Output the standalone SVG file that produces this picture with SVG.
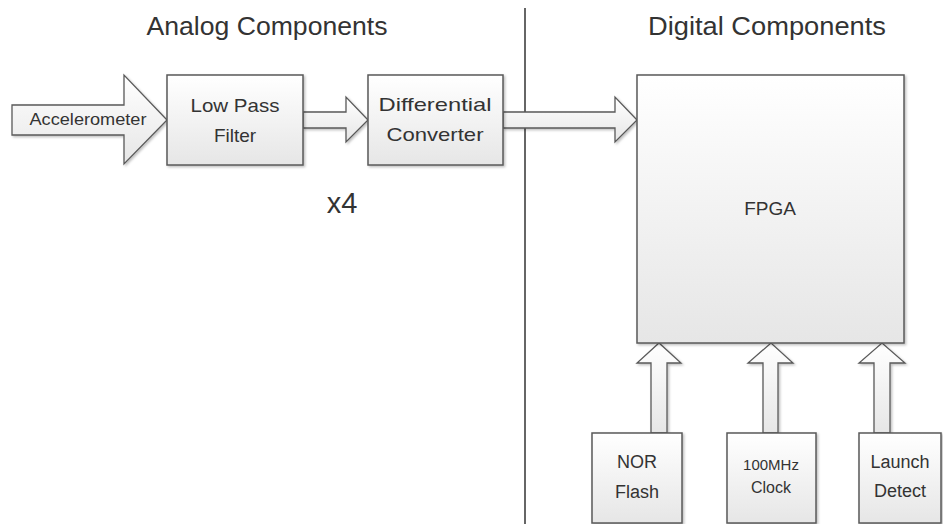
<svg xmlns="http://www.w3.org/2000/svg" width="943" height="524" viewBox="0 0 943 524">
<style>
.box{fill:url(#g);stroke:#5a5a5a;stroke-width:1.5}
.arr{fill:url(#g);stroke:#5a5a5a;stroke-width:1.3;stroke-linejoin:miter}
.t{font-family:"Liberation Sans",Arial,sans-serif;fill:#333;text-anchor:middle}
.h{font-size:25px}
.b{font-size:19px}
</style>
<defs>
<linearGradient id="g" x1="0" y1="0" x2="0" y2="1">
<stop offset="0" stop-color="#ffffff"/>
<stop offset="1" stop-color="#e6e6e6"/>
</linearGradient>
<filter id="sh" x="-10%" y="-10%" width="130%" height="130%">
<feDropShadow dx="1.5" dy="1.5" stdDeviation="1" flood-color="#000" flood-opacity="0.25"/>
</filter>
</defs>
<rect width="943" height="524" fill="#fff"/>
<text class="t h" x="267" y="35" textLength="241" lengthAdjust="spacingAndGlyphs">Analog Components</text>
<text class="t h" x="767" y="35" textLength="238" lengthAdjust="spacingAndGlyphs">Digital Components</text>
<line x1="525" y1="8" x2="525" y2="524" stroke="#333" stroke-width="1.5"/>
<g id="connectors" filter="url(#sh)">
<path class="arr" d="M12,105 H124 V75 L167,120 L124,164 V135 H12 Z"/>
<path class="arr" d="M303,112 H346 V97 L368,120 L346,142 V128 H303 Z"/>
<path class="arr" d="M503,112 H615 V97 L637,120 L615,142 V128 H503 Z"/>
<path class="arr" d="M651,433 V363 H637 L659,343 L681,363 H667 V433 Z"/>
<path class="arr" d="M763,433 V363 H748 L771,343 L793,363 H778 V433 Z"/>
<path class="arr" d="M874,433 V363 H859 L882,343 L905,363 H890 V433 Z"/>
</g>
<text class="t" x="88" y="125" font-size="16" textLength="117" lengthAdjust="spacingAndGlyphs">Accelerometer</text>
<g id="lpf" filter="url(#sh)"><rect class="box" x="167" y="75" width="136" height="90"/></g>
<text class="t b" x="235" y="112" textLength="89" lengthAdjust="spacingAndGlyphs">Low Pass</text>
<text class="t b" x="235" y="142">Filter</text>
<g id="diff" filter="url(#sh)"><rect class="box" x="368" y="75" width="135" height="90"/></g>
<text class="t b" x="435" y="111" textLength="113" lengthAdjust="spacingAndGlyphs">Differential</text>
<text class="t b" x="435" y="141" textLength="97" lengthAdjust="spacingAndGlyphs">Converter</text>
<text class="t" x="342" y="213" font-size="29">x4</text>
<g id="fpga" filter="url(#sh)"><rect class="box" x="637" y="75" width="267" height="268"/></g>
<text class="t" x="770" y="215" font-size="19">FPGA</text>
<g id="nor" filter="url(#sh)"><rect class="box" x="592" y="433" width="90" height="90"/></g>
<text class="t" x="637" y="468" font-size="18">NOR</text>
<text class="t" x="637" y="498" font-size="18">Flash</text>
<g id="clock" filter="url(#sh)"><rect class="box" x="727" y="433" width="89" height="90"/></g>
<text class="t" x="771" y="470" font-size="15">100MHz</text>
<text class="t" x="771" y="493" font-size="16">Clock</text>
<g id="launch" filter="url(#sh)"><rect class="box" x="859" y="433" width="82" height="90"/></g>
<text class="t" x="900" y="468" font-size="18">Launch</text>
<text class="t" x="900" y="497" font-size="18">Detect</text>
</svg>
